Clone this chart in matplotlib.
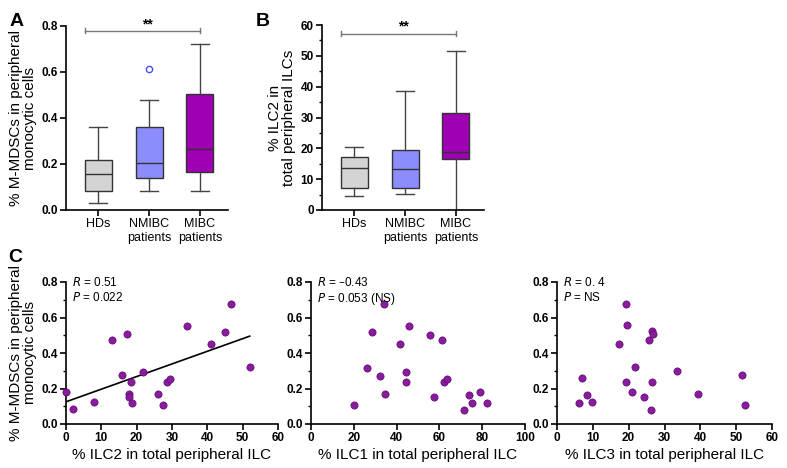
import numpy as np
import matplotlib
matplotlib.use("Agg")
import matplotlib.pyplot as plt
from matplotlib.ticker import MultipleLocator

plt.rcParams['font.family'] = ['Liberation Sans', 'DejaVu Sans']

# ---------------- data ----------------
groups = ["HDs", "NMIBC\npatients", "MIBC\npatients"]
box_colors = ["#d4d4d4", "#8c8cff", "#a000b4"]

# panel A: (whislo, q1, med, q3, whishi)
a_whislo = [0.029, 0.084, 0.083]
a_q1 = [0.084, 0.138, 0.164]
a_med = [0.158, 0.203, 0.264]
a_q3 = [0.217, 0.361, 0.506]
a_whishi = [0.359, 0.480, 0.722]
a_fliers = [[], [0.613], []]

# panel B
b_whislo = [4.4, 5.3, 0.0]
b_q1 = [7.0, 7.0, 16.6]
b_med = [13.6, 13.2, 18.7]
b_q3 = [17.1, 19.6, 31.6]
b_whishi = [20.3, 38.5, 51.7]
b_fliers = [[], [], []]

# panel C
ilc2_x = [0, 2.0, 7.8, 13.0, 15.9, 17.3, 17.9, 17.9, 18.4, 18.8, 21.9, 25.9, 27.5,
          28.5, 29.5, 34.3, 40.9, 44.9, 46.8, 52.2]
ilc2_y = [0.183, 0.083, 0.122, 0.474, 0.275, 0.506, 0.168, 0.151, 0.239, 0.119, 0.292,
          0.169, 0.109, 0.239, 0.256, 0.553, 0.452, 0.521, 0.676, 0.320]
fit_x = [0, 52]
fit_y = [0.125, 0.495]

ilc1_x = [19.9, 26.1, 28.5, 32.2, 34.1, 34.4, 41.7, 44.3, 44.6, 45.9, 55.7, 57.5, 61.3,
          62.2, 63.4, 71.5, 73.6, 75.0, 79.0, 82.3]
ilc1_y = [0.107, 0.318, 0.521, 0.273, 0.676, 0.168, 0.450, 0.292, 0.239, 0.552, 0.504,
          0.151, 0.472, 0.237, 0.254, 0.081, 0.166, 0.117, 0.179, 0.120]

ilc3_x = [6.2, 7.0, 8.3, 9.9, 17.4, 19.2, 19.3, 19.5, 20.8, 21.8, 24.4, 25.6, 26.1, 26.6,
          26.6, 26.8, 33.6, 39.4, 51.5, 52.4]
ilc3_y = [0.119, 0.258, 0.166, 0.122, 0.452, 0.678, 0.239, 0.555, 0.181, 0.322, 0.152,
          0.474, 0.081, 0.523, 0.239, 0.508, 0.296, 0.169, 0.275, 0.109]

W, H = 787, 468
fig = plt.figure(figsize=(W / 100, H / 100), dpi=100)


def ax_px(l, r, t, b):
    return fig.add_axes([l / W, 1 - b / H, (r - l) / W, (b - t) / H])


TICK_FS = 8.5
LBL_FS = 11
point_color = "#8a1a9e"


def style_axes(ax):
    for s in ["top", "right"]:
        ax.spines[s].set_visible(False)
    for s in ["left", "bottom"]:
        ax.spines[s].set_linewidth(1.2)
    ax.tick_params(axis="both", which="major", length=4, width=1.2, labelsize=TICK_FS, pad=2)
    ax.tick_params(axis="y", which="minor", length=2.5, width=1.0)
    for lab in ax.get_xticklabels() + ax.get_yticklabels():
        lab.set_fontweight("bold")


def boxpanel(ax, wl, q1, med, q3, wh, fl, ylim, major, minor, ylabel, fmt, bracket_y, star_y):
    stats = []
    for i in range(3):
        stats.append(dict(whislo=wl[i], q1=q1[i], med=med[i], q3=q3[i], whishi=wh[i],
                          fliers=fl[i], label=groups[i]))
    bp = ax.bxp(stats, positions=[1, 2, 3], widths=0.53, capwidths=0.36, patch_artist=True,
                boxprops=dict(linewidth=1.0, edgecolor="#333333"),
                medianprops=dict(color="#333333", linewidth=1.0),
                whiskerprops=dict(color="#444444", linewidth=1.0),
                capprops=dict(color="#444444", linewidth=1.0),
                flierprops=dict(marker="o", markerfacecolor="none", markeredgecolor="#4a4aff",
                                markersize=4.5, markeredgewidth=1.0))
    for patch, c in zip(bp["boxes"], box_colors):
        patch.set_facecolor(c)
    ax.set_xlim(0.37, 3.55)
    ax.set_ylim(*ylim)
    ax.yaxis.set_major_locator(MultipleLocator(major))
    if minor:
        ax.yaxis.set_minor_locator(MultipleLocator(minor))
    ax.yaxis.set_major_formatter(fmt)
    ax.set_xticks([1, 2, 3])
    ax.set_xticklabels(groups)
    ax.set_ylabel(ylabel, fontsize=LBL_FS, linespacing=1.0, labelpad=3)
    style_axes(ax)
    for lab in ax.get_xticklabels():
        lab.set_fontweight("normal")
        lab.set_fontsize(9)
    # significance bracket
    x0, x1 = 0.74, 3.0
    h = (ylim[1] - ylim[0]) * 0.012
    ax.plot([x0, x1], [bracket_y, bracket_y], color="#777777", lw=1.0, clip_on=False)
    ax.plot([x0, x0], [bracket_y - h, bracket_y + h], color="#777777", lw=1.0, clip_on=False)
    ax.plot([x1, x1], [bracket_y - h, bracket_y + h], color="#777777", lw=1.0, clip_on=False)
    ax.text((x0 + x1) / 2 + 0.1, star_y, "**", ha="center", va="center", fontsize=10,
            fontweight="bold")


axA = ax_px(66, 228, 26, 210)
boxpanel(axA, a_whislo, a_q1, a_med, a_q3, a_whishi, a_fliers, (0, 0.8), 0.2, None,
         "% M-MDSCs in peripheral\nmonocytic cells", "{x:.1f}", 0.78, 0.805)

axB = ax_px(322, 484, 25, 210)
boxpanel(axB, b_whislo, b_q1, b_med, b_q3, b_whishi, b_fliers, (0, 60), 10, 5,
         "% ILC2 in\ntotal peripheral ILCs", "{x:.0f}", 57.2, 59.5)


def scatter_panel(l, r, xs, ys, xmax, xlabel, ann, ylabel=None, fit=None):
    ax = ax_px(l, r, 282, 424)
    ax.scatter(xs, ys, s=27, color=point_color, edgecolors="#5a0a6a", linewidths=0.5,
               zorder=3, clip_on=False)
    if fit is not None:
        ax.plot(fit[0], fit[1], color="black", lw=1.2, zorder=2)
    ax.set_xlim(0, xmax)
    ax.set_ylim(0, 0.8)
    ax.xaxis.set_major_locator(MultipleLocator(20 if xmax == 100 else 10))
    ax.yaxis.set_major_locator(MultipleLocator(0.2))
    ax.yaxis.set_minor_locator(MultipleLocator(0.1))
    ax.yaxis.set_major_formatter("{x:.1f}")
    ax.set_xlabel(xlabel, fontsize=LBL_FS, labelpad=3)
    if ylabel:
        ax.set_ylabel(ylabel, fontsize=LBL_FS, linespacing=1.0, labelpad=3)
    style_axes(ax)
    ax.text(0.03, 1.04, ann, transform=ax.transAxes, ha="left", va="top", fontsize=8.5,
            linespacing=1.15)
    return ax


scatter_panel(66, 278, ilc2_x, ilc2_y, 60, "% ILC2 in total peripheral ILC",
              "$\\it{R}$ = 0.51\n$\\it{P}$ = 0.022",
              ylabel="% M-MDSCs in peripheral\nmonocytic cells", fit=(fit_x, fit_y))
scatter_panel(311, 525, ilc1_x, ilc1_y, 100, "% ILC1 in total peripheral ILC",
              "$\\it{R}$ = \u20130.43\n$\\it{P}$ = 0.053 (NS)")
scatter_panel(557, 772, ilc3_x, ilc3_y, 60, "% ILC3 in total peripheral ILC",
              "$\\it{R}$ = 0. 4\n$\\it{P}$ = NS")

fig.text(10 / W, 1 - 22 / H, "A", fontsize=14, fontweight="bold", va="center", ha="left")
fig.text(256 / W, 1 - 22 / H, "B", fontsize=14, fontweight="bold", va="center", ha="left")
fig.text(8 / W, 1 - 258 / H, "C", fontsize=14, fontweight="bold", va="center", ha="left")

fig.savefig("out.png", dpi=100)
